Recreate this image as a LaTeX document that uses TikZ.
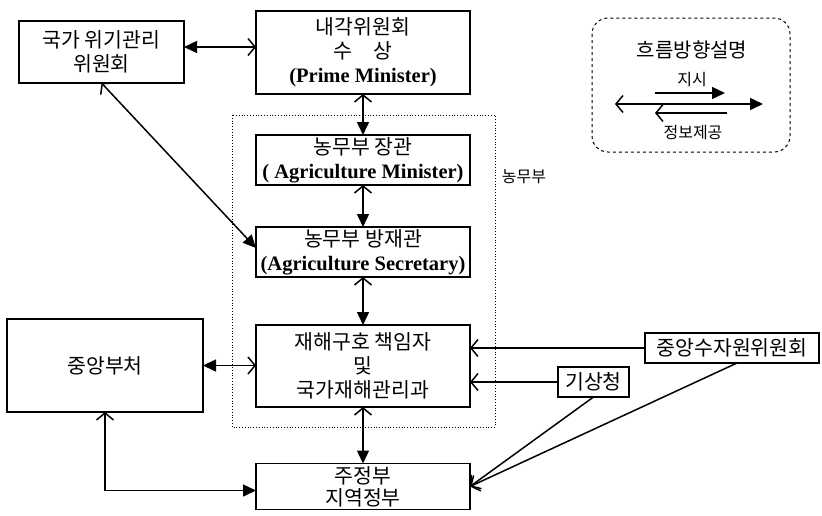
\documentclass[tikz,border=0pt]{standalone}
\usepackage{fontspec}
\setmainfont{Liberation Serif}
\newfontfamily\kr{Noto Sans CJK KR}
\usetikzlibrary{arrows.meta,calc}
\newcommand\entxt[1]{{\rmfamily\bfseries\fontsize{20.5}{24}\selectfont #1}}
\begin{document}
\begin{tikzpicture}[x=1pt,y=-1pt,
  box/.style={draw, line width=1.6pt, inner sep=0pt, outer sep=0pt, align=center,
    font=\kr\fontsize{20.5}{24}\selectfont},
  conn/.style={line width=1.5pt},
  biarrow/.style={conn, {Straight Barb[length=7pt,width=17pt]}-{Triangle[length=13pt,width=12pt]}},
  ibarrow/.style={conn, {Triangle[length=13pt,width=12pt]}-{Straight Barb[length=7pt,width=17pt]}},
  infoarrow/.style={conn, -{Straight Barb[length=7pt,width=17pt]}},
  lbl/.style={inner sep=0pt, font=\kr\fontsize{16}{18}\selectfont}
]
\useasboundingbox (0,0) rectangle (822,515);

% ministry frame
\draw[line width=0.8pt, dotted] (232,115) rectangle (495,427);
\node[lbl] (nongmubu) at (524,177) {농무부};

% boxes
\node[box, minimum width=165pt, minimum height=62pt] (gukga) at (101.5,52) {국가 위기관리\\위원회};
\node[box, minimum width=214pt, minimum height=83pt] (naegak) at (363,52.5) {내각위원회\\수\quad 상\\\entxt{(Prime Minister)}};
\node[box, minimum width=214pt, minimum height=50pt] (jang) at (363,160) {농무부 장관\\\entxt{( Agriculture Minister)}};
\node[box, minimum width=214pt, minimum height=50pt] (bang) at (363,252) {농무부 방재관\\\entxt{(Agriculture Secretary)}};
\node[box, minimum width=214pt, minimum height=82pt] (jae) at (363,366) {재해구호 책임자\\및\\국가재해관리과};
\node[box, minimum width=214pt, minimum height=46pt, font=\kr\fontsize{20.5}{22}\selectfont] (ju) at (363,486.5) {주정부\\지역정부};
\node[box, minimum width=196pt, minimum height=93pt] (jungang) at (105,365.5) {중앙부처};
\node[box, minimum width=174pt, minimum height=30pt] (suja) at (732,348) {중앙수자원위원회};
\node[box, minimum width=71pt, minimum height=30pt] (gisang) at (593.5,382) {기상청};

% connectors
\draw[ibarrow] ([yshift=5pt]gukga.east) -- ([yshift=5pt]gukga.east -| naegak.west);
\draw[biarrow] (naegak.south) -- (jang.north);
\draw[biarrow] (jang.south) -- (bang.north);
\draw[biarrow] (bang.south) -- (jae.north);
\draw[biarrow] (jae.south) -- (ju.north);
\draw[biarrow] (gukga.south) -- ([yshift=4pt]bang.west);
\draw[ibarrow] (jungang.east) -- (jungang.east -| jae.west);
\coordinate (juw) at ([yshift=-4pt]ju.west);
\draw[biarrow] (jungang.south) |- (juw);
\draw[infoarrow] (suja.west) -- (suja.west -| jae.east);
\draw[infoarrow] (gisang.west) -- (gisang.west -| jae.east);
\draw[infoarrow] (gisang.south) -- (ju.east);
\draw[infoarrow] ([xshift=5pt]suja.south) -- (ju.east);

% legend
\draw[line width=1pt, dashed, rounded corners=16pt] (592,18) rectangle (790,152);
\node[inner sep=0pt, font=\kr\fontsize{20}{22}\selectfont] (legtitle) at (692,50) {흐름방향설명};
\node[lbl] (jisi) at (692,80) {지시};
\node[lbl] (jeongbo) at (693,133) {정보제공};
\coordinate (a1) at (655,93); \coordinate (a2) at (725,93);
\coordinate (b1) at (615,104); \coordinate (b2) at (763,104);
\coordinate (c1) at (727,113); \coordinate (c2) at (655,113);
\draw[conn, -{Triangle[length=13pt,width=12pt]}] (a1) -- (a2);
\draw[biarrow] (b1) -- (b2);
\draw[infoarrow] (c1) -- (c2);
\end{tikzpicture}
\end{document}
